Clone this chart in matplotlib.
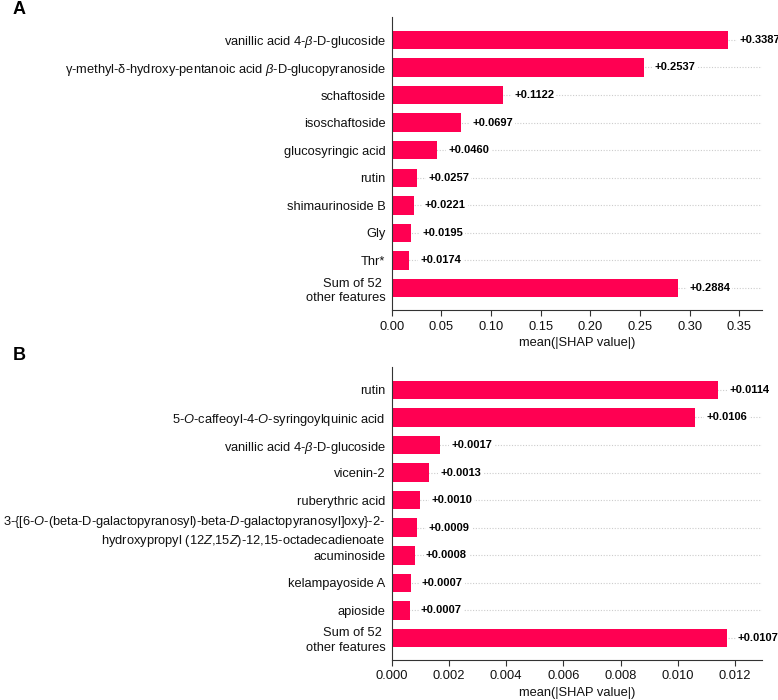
import numpy as np
import matplotlib
matplotlib.use("Agg")
import matplotlib.pyplot as plt

plt.rcParams["font.family"] = ["Liberation Sans", "DejaVu Sans"]
plt.rcParams["mathtext.fontset"] = "custom"
plt.rcParams["mathtext.rm"] = "Liberation Sans"
plt.rcParams["mathtext.it"] = "Liberation Sans:italic"
plt.rcParams["mathtext.bf"] = "Liberation Sans:bold"

# panel A data (top to bottom)
features_a = [
    r"vanillic acid 4-$\beta$-D-glucoside",
    r"γ-methyl-δ-hydroxy-pentanoic acid $\beta$-D-glucopyranoside",
    "schaftoside",
    "isoschaftoside",
    "glucosyringic acid",
    "rutin",
    "shimaurinoside B",
    "Gly",
    "Thr*",
    "Sum of 52 \nother features",
]
values_a = [0.3387, 0.2537, 0.1122, 0.0697, 0.0460, 0.0257, 0.0221, 0.0195, 0.0174, 0.2884]
labels_a = ["+0.3387", "+0.2537", "+0.1122", "+0.0697", "+0.0460",
            "+0.0257", "+0.0221", "+0.0195", "+0.0174", "+0.2884"]
ticks_a = [0.00, 0.05, 0.10, 0.15, 0.20, 0.25, 0.30, 0.35]
ticklabels_a = ["0.00", "0.05", "0.10", "0.15", "0.20", "0.25", "0.30", "0.35"]

# panel B data (top to bottom)
features_b = [
    "rutin",
    "5-$O$-caffeoyl-4-$O$-syringoylquinic acid",
    r"vanillic acid 4-$\beta$-D-glucoside",
    "vicenin-2",
    "ruberythric acid",
    "3-{[6-$O$-(beta-D-galactopyranosyl)-beta-$D$-galactopyranosyl]oxy}-2-\n"
    "hydroxypropyl (12$Z$,15$Z$)-12,15-octadecadienoate",
    "acuminoside",
    "kelampayoside A",
    "apioside",
    "Sum of 52 \nother features",
]
values_b = [0.0114, 0.0106, 0.0017, 0.0013, 0.0010, 0.0009, 0.0008, 0.00066, 0.00063, 0.0117]
labels_b = ["+0.0114", "+0.0106", "+0.0017", "+0.0013", "+0.0010",
            "+0.0009", "+0.0008", "+0.0007", "+0.0007", "+0.0107"]
ticks_b = [0.000, 0.002, 0.004, 0.006, 0.008, 0.010, 0.012]
ticklabels_b = ["0.000", "0.002", "0.004", "0.006", "0.008", "0.010", "0.012"]

BAR_COLOR = "#ff0052"
FS = 9.3


def draw_panel(ax, features, values, labels, ticks, ticklabels, xmax):
    n = len(features)
    y = np.arange(n)[::-1]
    for yi in y:
        ax.axhline(yi, color="#cccccc", lw=0.8, ls=(0, (1, 1.5)), zorder=0)
    ax.barh(y, values, height=0.67, color=BAR_COLOR, zorder=2)
    off = xmax * 0.03
    for yi, v, lab in zip(y, values, labels):
        ax.text(v + off, yi, lab, va="center", ha="left", fontsize=8,
                fontweight="bold", color="black", zorder=3,
                bbox=dict(facecolor="white", edgecolor="none", pad=1.5),
                clip_on=False)
    ax.set_yticks(y)
    ax.set_yticklabels(features, fontsize=FS, color="#111111", linespacing=1.25)
    ax.tick_params(axis="y", length=0, pad=4.5)
    ax.set_xticks(ticks)
    ax.set_xticklabels(ticklabels, fontsize=FS, color="#111111")
    ax.tick_params(axis="x", length=4, color="#333333")
    ax.set_xlim(0, xmax)
    ax.set_ylim(-0.8, n - 1 + 0.83)
    ax.set_xlabel("mean(|SHAP value|)", fontsize=FS, color="#111111", labelpad=3)
    ax.spines["top"].set_visible(False)
    ax.spines["right"].set_visible(False)
    ax.spines["left"].set_color("#333333")
    ax.spines["bottom"].set_color("#333333")


fig = plt.figure(figsize=(7.78, 7.0), dpi=100)
ax_a = fig.add_axes([0.5035, 0.557, 0.476, 0.4187])
ax_b = fig.add_axes([0.5035, 0.0571, 0.476, 0.4186])

draw_panel(ax_a, features_a, values_a, labels_a, ticks_a, ticklabels_a, 0.373)
draw_panel(ax_b, features_b, values_b, labels_b, ticks_b, ticklabels_b, 0.01294)

fig.text(0.016, 0.999, "A", fontsize=13, fontweight="bold", va="top")
fig.text(0.016, 0.504, "B", fontsize=13, fontweight="bold", va="top")

fig.savefig("out.png", dpi=100)
